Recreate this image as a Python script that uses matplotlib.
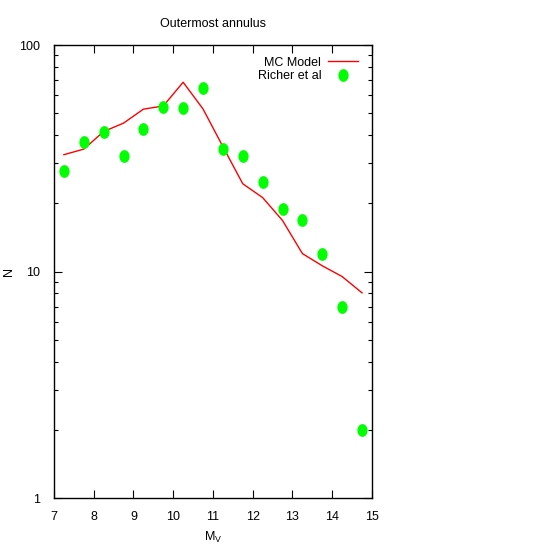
import matplotlib
matplotlib.use('Agg')
import numpy as np
import matplotlib.pyplot as plt
from matplotlib.path import Path
from matplotlib.ticker import LogLocator, FixedLocator, NullFormatter

plt.rcParams['font.family'] = ['Liberation Sans', 'DejaVu Sans']

# magnitude bins
mv = [7.25, 7.75, 8.25, 8.75, 9.25, 9.75, 10.25, 10.75,
      11.25, 11.75, 12.25, 12.75, 13.25, 13.75, 14.25, 14.75]

# Monte Carlo model counts
n_model = [32.8, 34.7, 41.5, 45.2, 52.1, 53.8, 68.5, 52.2,
           35.6, 24.4, 21.2, 16.8, 12.0, 10.6, 9.5, 8.05]

# Richer et al observed counts
n_richer = [27.9, 37.4, 41.5, 32.5, 42.7, 53.5, 52.6, 64.5,
            34.8, 32.2, 24.9, 18.8, 16.8, 12.0, 7.0, 2.0]

x_ticks = [7, 8, 9, 10, 11, 12, 13, 14, 15]

# slightly tall ellipse, like the gnuplot dots
th = np.linspace(0, 2 * np.pi, 40)
ell = Path(np.column_stack([0.8 * np.cos(th), np.sin(th)]), closed=True)

fig = plt.figure(figsize=(5.45, 5.45), dpi=100)
ax = fig.add_axes([0.099, 0.0862, 0.5835, 0.8312])

ax.plot(mv, n_model, color='#ff0000', lw=1.0, label='MC Model')
ax.plot(mv, n_richer, ls='none', marker=ell, color='#00ff00', markersize=9.2,
        markeredgewidth=0, label='Richer et al')

ax.set_yscale('log')
ax.set_xlim(7, 15)
ax.set_ylim(1, 100)
ax.xaxis.set_major_locator(FixedLocator(x_ticks))
ax.set_yticks([1, 10, 100])
ax.set_yticklabels(['1', '10', '100'])
ax.yaxis.set_minor_locator(LogLocator(base=10, subs=range(2, 10)))
ax.yaxis.set_minor_formatter(NullFormatter())

ax.tick_params(which='both', direction='in', top=True, right=True, labelsize=9)
ax.tick_params(axis='x', pad=9)
ax.tick_params(axis='y', pad=10)
ax.tick_params(which='major', length=6, width=0.8)
ax.tick_params(which='minor', length=3, width=0.8)
for s in ax.spines.values():
    s.set_linewidth(1.0)

ax.set_title('Outermost annulus', fontsize=9, pad=13)
ax.set_xlabel('M$_\\mathregular{V}$', fontsize=9)
ax.set_ylabel('N', fontsize=9)
ax.xaxis.set_label_coords(0.5, -0.07)
ax.yaxis.set_label_coords(-0.122, 0.5)

leg = ax.legend(loc='upper right', frameon=False, fontsize=9,
                markerfirst=False, handlelength=2.45, handletextpad=0.5,
                borderaxespad=0.3, labelspacing=0.12, borderpad=0.4,
                bbox_to_anchor=(1 - 5 / 318, 1 - 3 / 453))
for t in leg.get_texts():
    t.set_ha('right')

fig.savefig('out.png', dpi=100)
